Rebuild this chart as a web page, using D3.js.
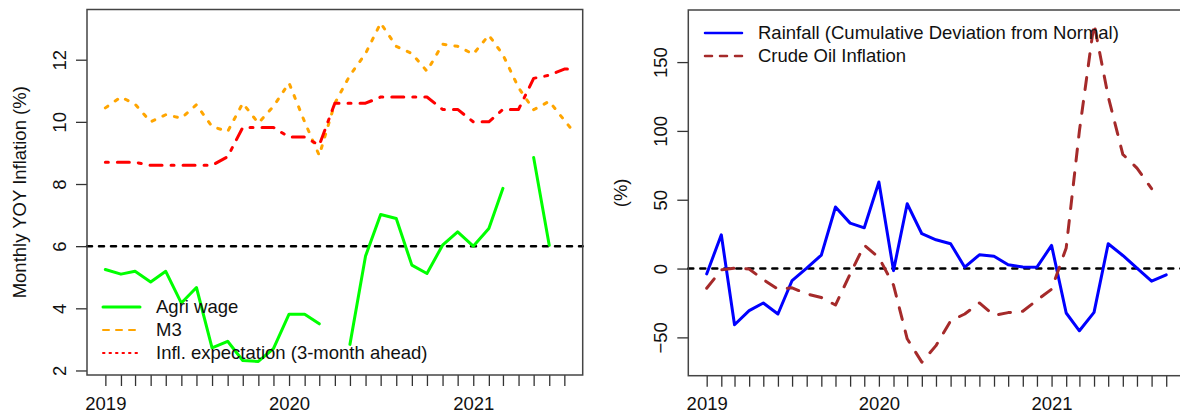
<!DOCTYPE html>
<html>
<head>
<meta charset="utf-8">
<script src="https://cdn.jsdelivr.net/npm/d3@7"></script>
<style>
  body{margin:0;background:#fff;}
  text{font-family:"Liberation Sans",Arial,Helvetica,sans-serif;fill:#111;}
</style>
</head>
<body>
<svg id="chart" width="1180" height="414"></svg>
<script>
"use strict";
//----------------------------------------
//Data
var leftMonths = ["2019-01-01","2019-02-01","2019-03-01","2019-04-01","2019-05-01","2019-06-01",
                  "2019-07-01","2019-08-01","2019-09-01","2019-10-01","2019-11-01","2019-12-01",
                  "2020-01-01","2020-02-01","2020-03-01","2020-04-01","2020-05-01","2020-06-01",
                  "2020-07-01","2020-08-01","2020-09-01","2020-10-01","2020-11-01","2020-12-01",
                  "2021-01-01","2021-02-01","2021-03-01","2021-04-01","2021-05-01","2021-06-01",
                  "2021-07-01"];
//M3 and the expectation survey carry one more, later reading
var m3Dates = leftMonths.concat(["2021-07-19"]);
var rightMonths = leftMonths.concat(["2021-08-01","2021-09-01"]);

var agriWage = [5.25,5.1,5.19,4.85,5.19,4.17,4.67,2.73,2.94,2.32,2.29,2.7,
                3.81,3.81,3.5,null,2.84,5.68,7.02,6.89,5.39,5.12,6.03,6.46,
                6.0,6.57,7.86,null,8.85,6.03,null];
var m3 = [10.45,10.8,10.57,10.0,10.23,10.12,10.55,9.85,9.69,10.6,9.96,10.5,
          11.25,10.0,8.92,10.6,11.5,12.2,13.18,12.43,12.2,11.63,12.5,12.43,
          12.18,12.79,12.16,11.1,10.39,10.66,10.05,9.69];
var inflExpectation = [8.7,8.7,8.7,8.6,8.6,8.6,8.6,8.6,8.88,9.82,9.82,9.82,
                       9.51,9.51,9.25,10.6,10.6,10.6,10.8,10.8,10.8,10.8,10.4,10.4,
                       10.0,10.0,10.4,10.4,11.4,11.5,11.7,11.7];
var rainfall = [-3.9,24.5,-40.8,-30.6,-25,-33,-8.7,0.3,9.8,44.7,33,29.6,
                62.9,-1.5,47.1,25.3,20.9,18,1,10,9,2.7,1.2,1,
                16.8,-32.3,-45.2,-31.8,18,9.5,0.3,-9.2,-4.6];
var crudeOil = [-14.3,-1,0.3,-0.3,-8,-15,-14,-18.4,-21,-26.5,-4,17,
                8,-12,-51,-68,-56,-38,-33,-25,-34,-32,-31,-23,
                -15,15,100,178,125,83,73,58,null];

var leftTicks = [2,4,6,8,10,12];
var rightTicks = [-50,0,50,100,150];
var leftLegend = ["Agri wage","M3","Infl. expectation (3-month ahead)"];
var rightLegend = ["Rainfall (Cumulative Deviation from Normal)","Crude Oil Inflation"];

//----------------------------------------
var parseDate = d3.timeParse("%Y-%m-%d");
var svg = d3.select("#chart");
var fontSize = 18.5;

var zip = function(dates,values){
    return values.map(function(v,i){ return {date:parseDate(dates[i]),v:v}; });
};

//R style 4% axis extension
var padded = function(lo,hi){
    var p = (hi - lo) * 0.04;
    return [lo - p,hi + p];
};

/**
   @function drawPanel
   @param opts box, data ranges, ticks, title
 */
var drawPanel = function(opts){
    var b = opts.box,
        g = svg.append("g");
    var x = d3.scaleTime().domain(padded(+opts.xDomain[0],+opts.xDomain[1])).range([b.x,b.x + b.w]),
        y = d3.scaleLinear().domain(opts.yDomain).range([b.y + b.h,b.y]);

    //month ticks, years as labels
    var xAxis = g.append("g")
        .attr("transform","translate(0," + (b.y + b.h) + ")")
        .call(d3.axisBottom(x).tickValues(opts.months).tickSize(11)
              .tickFormat(function(d){ return d.getMonth() === 0 ? d.getFullYear() : ""; }));
    xAxis.select(".domain").remove();
    xAxis.selectAll("line").attr("stroke","#333").attr("stroke-width",1.3);
    xAxis.selectAll("text").attr("y",34.5).attr("dy",null)
        .style("font-size",fontSize + "px").attr("fill","#111");

    var yAxis = g.append("g")
        .attr("transform","translate(" + b.x + ",0)")
        .call(d3.axisLeft(y).tickValues(opts.yTicks).tickSize(11));
    yAxis.select(".domain").remove();
    yAxis.selectAll("line").attr("stroke","#333").attr("stroke-width",1.3);
    yAxis.selectAll("text").attr("x",null).attr("dy",null)
        .attr("transform","translate(-21,0) rotate(-90)")
        .attr("text-anchor","middle")
        .style("font-size",fontSize + "px").attr("fill","#111");

    g.append("text")
        .attr("transform","translate(" + (b.x - 61) + "," + (b.y + b.h / 2) + ") rotate(-90)")
        .attr("text-anchor","middle")
        .style("font-size",fontSize + "px")
        .text(opts.title);

    //reference line
    g.append("line")
        .attr("x1",b.x).attr("x2",b.x + b.w)
        .attr("y1",y(opts.refLine)).attr("y2",y(opts.refLine))
        .attr("stroke","#000").attr("stroke-width",2.5)
        .attr("stroke-dasharray","5,7").attr("stroke-linecap","round");

    var line = d3.line()
        .defined(function(d){ return d.v !== null; })
        .x(function(d){ return x(d.date); })
        .y(function(d){ return y(d.v); });

    opts.series.forEach(function(s){
        g.append("path")
            .datum(s.data)
            .attr("fill","none")
            .attr("stroke",s.colour)
            .attr("stroke-width",3)
            .attr("stroke-linecap","round")
            .attr("stroke-linejoin","round")
            .attr("stroke-dasharray",s.dash)
            .attr("d",line);
    });

    g.append("rect")
        .attr("x",b.x).attr("y",b.y).attr("width",b.w).attr("height",b.h)
        .attr("fill","none").attr("stroke","#444").attr("stroke-width",1.5);

    //legend, no border
    var leg = g.selectAll(".leg").data(opts.legend).enter().append("g")
        .attr("transform",function(d,i){
            return "translate(" + opts.legendAt[0] + "," + (opts.legendAt[1] + i * 23) + ")";
        });
    leg.append("line")
        .attr("x1",0).attr("x2",37)
        .attr("stroke",function(d){ return d.colour; })
        .attr("stroke-width",function(d){ return d.width; })
        .attr("stroke-dasharray",function(d){ return d.dash; })
        .attr("stroke-linecap","round");
    leg.append("text")
        .attr("x",53).attr("dy","0.35em")
        .style("font-size",fontSize + "px")
        .text(function(d){ return d.label; });
};

//----------------------------------------
//Left panel
var agriData = zip(leftMonths,agriWage),
    m3Data = zip(m3Dates,m3),
    expData = zip(m3Dates,inflExpectation);
var leftAll = agriWage.concat(m3,inflExpectation).filter(function(v){ return v !== null; });

drawPanel({
    box:{x:87,y:9.5,w:495.7,h:365.5},
    months:leftMonths.map(parseDate),
    xDomain:d3.extent(leftMonths.map(parseDate)),
    yDomain:padded(d3.min(leftAll),d3.max(leftAll)),
    yTicks:leftTicks,
    title:"Monthly YOY Inflation (%)",
    refLine:6,
    series:[
        {data:agriData,colour:"#00ff00",dash:null},
        {data:m3Data,colour:"#ffa500",dash:"3,9"},
        {data:expData,colour:"#ff0000",dash:"3,9,12,9"}
    ],
    legendAt:[103,307],
    legend:[
        {label:leftLegend[0],colour:"#00ff00",dash:null,width:3},
        {label:leftLegend[1],colour:"#ffa500",dash:"6,7",width:2},
        {label:leftLegend[2],colour:"#ff0000",dash:"1.5,5",width:2}
    ]
});

//Right panel
var rainData = zip(rightMonths,rainfall),
    crudeData = zip(rightMonths,crudeOil);
var rightAll = rainfall.concat(crudeOil).filter(function(v){ return v !== null; });

drawPanel({
    box:{x:688.3,y:10,w:496.3,h:365.7},
    months:rightMonths.map(parseDate),
    xDomain:d3.extent(rightMonths.map(parseDate)),
    yDomain:padded(d3.min(rightAll),d3.max(rightAll)),
    yTicks:rightTicks,
    title:"(%)",
    refLine:0,
    series:[
        {data:rainData,colour:"#0000ff",dash:null},
        {data:crudeData,colour:"#a52a2a",dash:"12,12"}
    ],
    legendAt:[705,33],
    legend:[
        {label:rightLegend[0],colour:"#0000ff",dash:null,width:2.5},
        {label:rightLegend[1],colour:"#a52a2a",dash:"7,8",width:2.5}
    ]
});
</script>
</body>
</html>
